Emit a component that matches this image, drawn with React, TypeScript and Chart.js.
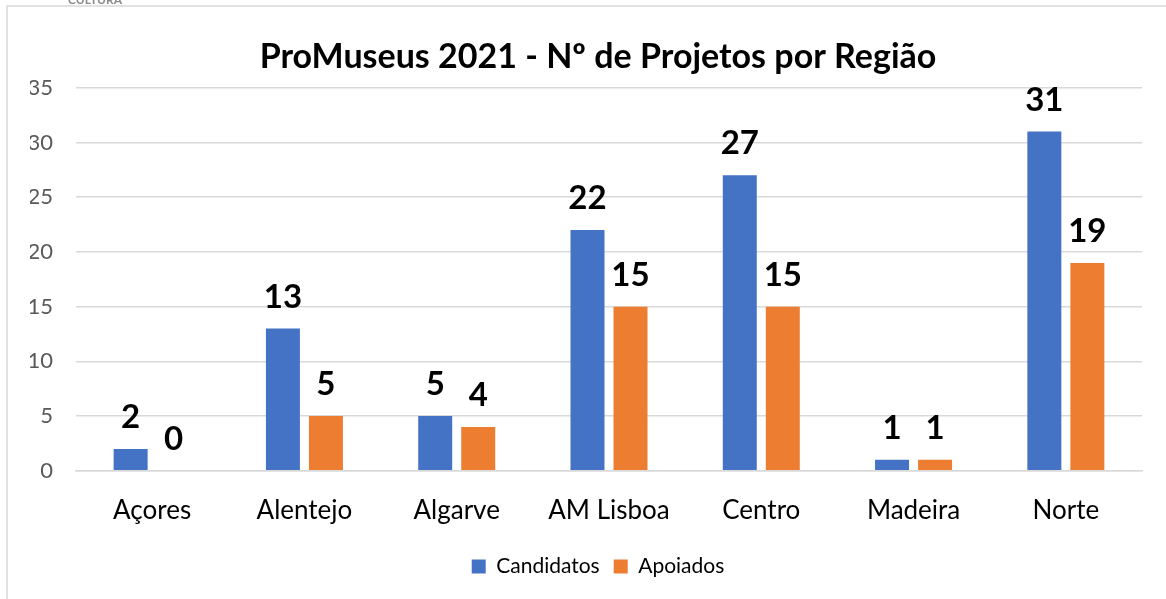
import React, { useEffect, useRef } from "react";
import { Chart, registerables } from "chart.js";

Chart.register(...registerables);

const categories = ["Açores", "Alentejo", "Algarve", "AM Lisboa", "Centro", "Madeira", "Norte"];
const candidatos = [2, 13, 5, 22, 27, 1, 31];
const apoiados = [0, 5, 4, 15, 15, 1, 19];
const seriesNames = ["Candidatos", "Apoiados"];
const seriesColors = ["#4472C4", "#ED7D31"];
const titleText = "ProMuseus 2021 - Nº de Projetos por Região";
const yMax = 35;
const yStep = 5;

const FONT = "Lato";

const dataLabels = {
  id: "dataLabels",
  afterDatasetsDraw(chart: any) {
    const ctx = chart.ctx;
    ctx.save();
    ctx.font = `bold 33px ${FONT}`;
    ctx.fillStyle = "#000000";
    ctx.textAlign = "center";
    ctx.textBaseline = "alphabetic";
    chart.data.datasets.forEach((ds: any, i: number) => {
      const meta = chart.getDatasetMeta(i);
      meta.data.forEach((bar: any, j: number) => {
        ctx.fillText(String(ds.data[j]), bar.x, bar.y - 21);
      });
    });
    ctx.restore();
  },
};

const frame = {
  id: "frame",
  beforeDraw(chart: any) {
    const ctx = chart.ctx;
    const w = chart.width;
    const h = chart.height;
    ctx.save();
    ctx.fillStyle = "#ffffff";
    ctx.fillRect(0, 0, w, h);
    ctx.strokeStyle = "#d9d9d9";
    ctx.lineWidth = 1.5;
    ctx.beginPath();
    ctx.moveTo(7, h);
    ctx.lineTo(7, 6);
    ctx.lineTo(w, 6);
    ctx.stroke();
    ctx.fillStyle = "#8a8a8a";
    ctx.font = `bold 12px ${FONT}`;
    ctx.textAlign = "center";
    ctx.textBaseline = "alphabetic";
    ctx.fillText("CULTURA", 95, 4);
    ctx.restore();
  },
};

export default function App() {
  const ref = useRef<HTMLCanvasElement | null>(null);

  useEffect(() => {
    if (!ref.current) return;
    const chart = new Chart(ref.current, {
      type: "bar",
      data: {
        labels: categories,
        datasets: [
          {
            label: seriesNames[0],
            data: candidatos,
            backgroundColor: seriesColors[0],
            categoryPercentage: 0.565,
            barPercentage: 0.79,
          },
          {
            label: seriesNames[1],
            data: apoiados,
            backgroundColor: seriesColors[1],
            categoryPercentage: 0.565,
            barPercentage: 0.79,
          },
        ],
      },
      options: {
        responsive: false,
        animation: false,
        layout: { padding: { left: 30, right: 0, top: 0, bottom: 12 } },
        plugins: {
          title: {
            display: true,
            text: titleText,
            color: "#000000",
            font: { family: FONT, size: 34, weight: "bold" },
            padding: { top: 37, bottom: 10 },
          },
          legend: {
            position: "bottom",
            labels: {
              boxWidth: 14,
              boxHeight: 14,
              padding: 14,
              color: "#000000",
              font: { family: FONT, size: 21 },
            },
          },
          tooltip: { enabled: false },
        },
        scales: {
          x: {
            grid: { display: false },
            border: { display: true, color: "#d9d9d9", width: 1.5 },
            ticks: {
              color: "#000000",
              font: { family: FONT, size: 26 },
              padding: 16,
            },
          },
          y: {
            min: 0,
            max: yMax,
            grid: { color: "#d9d9d9", lineWidth: 1.5, drawTicks: false },
            border: { display: false },
            ticks: {
              stepSize: yStep,
              color: "#595959",
              font: { family: FONT, size: 22 },
              padding: 23,
            },
            afterFit(s: any) {
              s.width = 46;
            },
          },
          y2: {
            position: "right",
            display: true,
            grid: { display: false },
            border: { display: false },
            ticks: { display: false },
            afterFit(s: any) {
              s.width = 24;
            },
          },
        },
      },
      plugins: [frame, dataLabels],
    });
    return () => chart.destroy();
  }, []);

  return (
    <div style={{ position: "fixed", left: 0, top: 0, width: 1166, height: 599, background: "#fff" }}>
      <canvas ref={ref} width={1166} height={599} style={{ display: "block", width: 1166, height: 599 }} />
    </div>
  );
}
